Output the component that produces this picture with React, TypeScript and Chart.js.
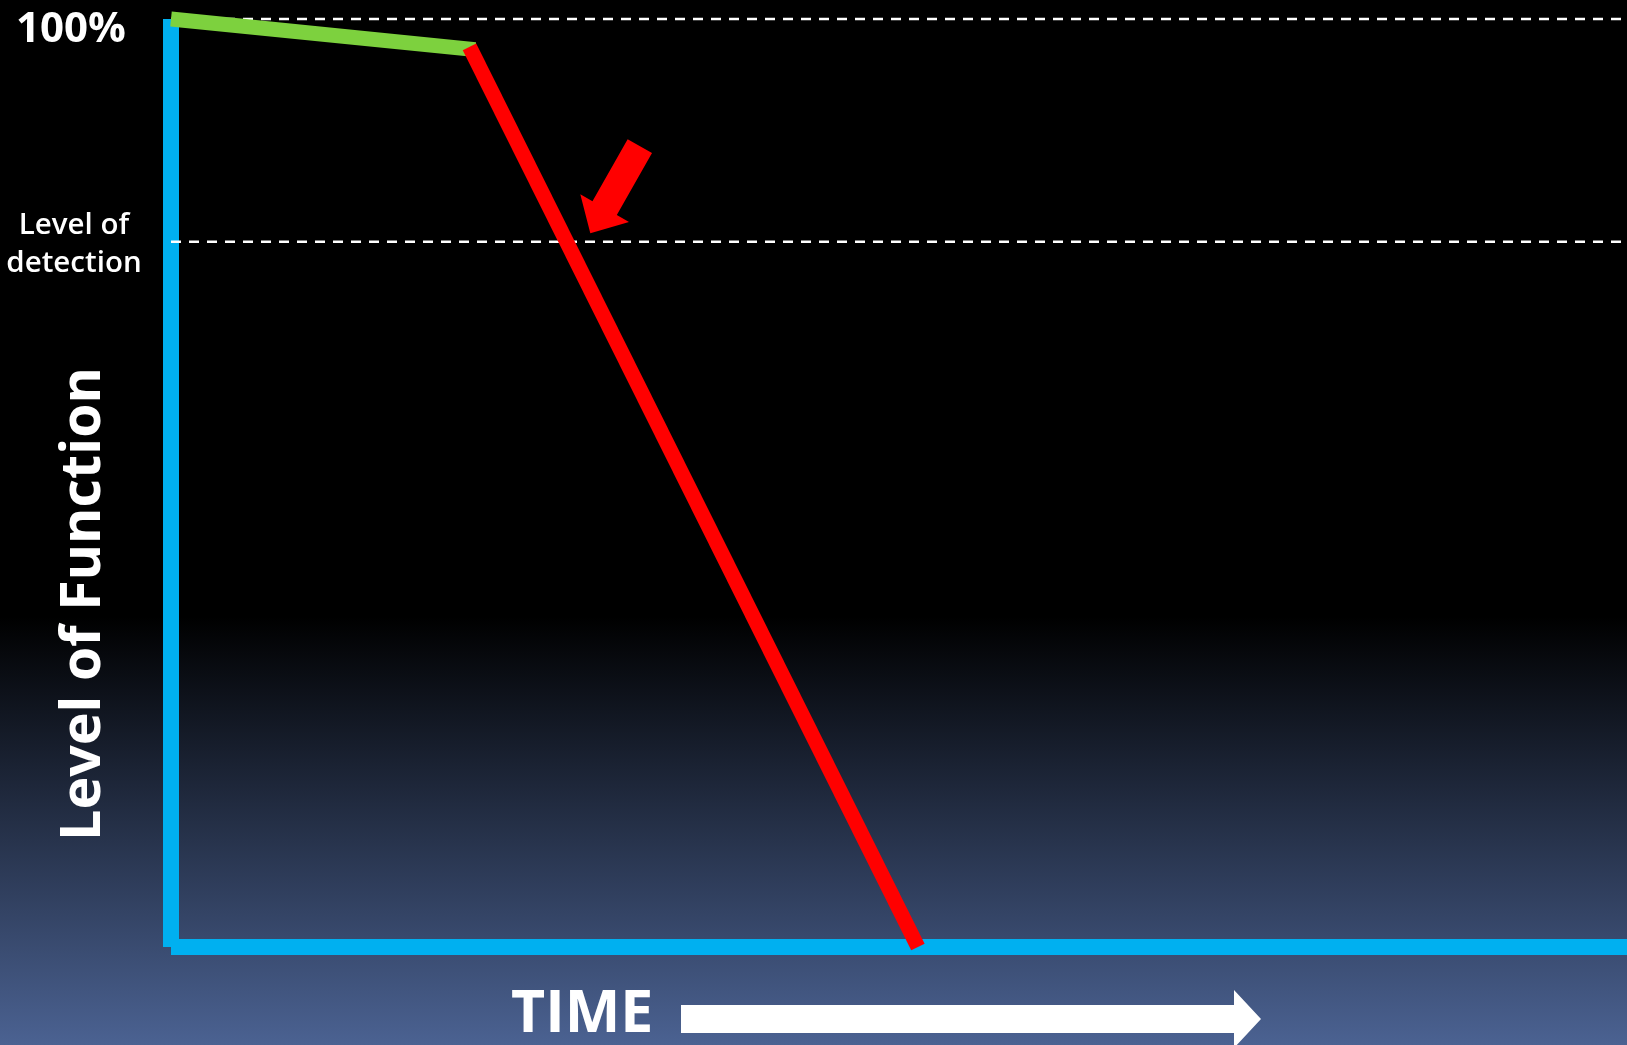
import React, { useEffect, useRef } from "react";
import { Chart, registerables } from "chart.js";

Chart.register(...registerables);

// Time runs 0..100 across the plot, function level 0..100 %.
const timeRange = [0, 100];
const levelRange = [0, 100];

// Axis frame (blue): vertical level axis and horizontal time axis.
const axisVerticalTime = [0, 0];
const axisVerticalLevel = [100, 0];
const axisHorizontalTime = [0, 100];
const axisHorizontalLevel = [0, 0];

// Slow, healthy phase (green).
const healthyTime = [0, 20.9];
const healthyLevel = [100, 96.7];

// Rapid decline (red).
const declineTime = [20.5, 51.3];
const declineLevel = [97.0, 0];

// Reference levels (dashed).
const referenceLevels = [100, 76];
const referenceLabels: (string | string[])[] = ["100%", ["Level of", "detection"]];

// Pointer arrow towards the moment the decline is detected: [tail, tip].
const pointerTime = [32.2, 28.8];
const pointerLevel = [86.3, 76.9];

const xAxisTitle = "TIME";
const yAxisTitle = "Level of Function";

const FONT = "'Open Sans', 'DejaVu Sans', sans-serif";

const toPoints = (xs: number[], ys: number[]) => xs.map((x, i) => ({ x, y: ys[i] }));

const backgroundPlugin = {
  id: "slideBackground",
  beforeDraw(chart: any) {
    const { ctx, width, height } = chart;
    const g = ctx.createLinearGradient(0, 0, 0, height);
    g.addColorStop(0, "#000000");
    g.addColorStop(0.59, "#000000");
    g.addColorStop(1, "#4b6292");
    ctx.save();
    ctx.fillStyle = g;
    ctx.fillRect(0, 0, width, height);
    ctx.restore();
  },
};

const annotationPlugin = {
  id: "slideAnnotations",
  afterDatasetsDraw(chart: any) {
    const { ctx } = chart;
    const xs = chart.scales.x;
    const ys = chart.scales.y;

    // red pointer arrow
    const tx = xs.getPixelForValue(pointerTime[0]);
    const ty = ys.getPixelForValue(pointerLevel[0]);
    const hx = xs.getPixelForValue(pointerTime[1]);
    const hy = ys.getPixelForValue(pointerLevel[1]);
    const len = Math.hypot(hx - tx, hy - ty);
    const ux = (hx - tx) / len;
    const uy = (hy - ty) / len;
    const px = -uy;
    const py = ux;
    const shaftW = 14;
    const headW = 28;
    const headL = 29;
    const bx = hx - ux * headL;
    const by = hy - uy * headL;
    ctx.save();
    ctx.fillStyle = "#ff0000";
    ctx.beginPath();
    ctx.moveTo(tx + px * shaftW, ty + py * shaftW);
    ctx.lineTo(bx + px * shaftW, by + py * shaftW);
    ctx.lineTo(bx + px * headW, by + py * headW);
    ctx.lineTo(hx, hy);
    ctx.lineTo(bx - px * headW, by - py * headW);
    ctx.lineTo(bx - px * shaftW, by - py * shaftW);
    ctx.lineTo(tx - px * shaftW, ty - py * shaftW);
    ctx.closePath();
    ctx.fill();
    ctx.restore();
  },
  afterDraw(chart: any) {
    const { ctx, chartArea } = chart;
    const ys = chart.scales.y;
    ctx.save();
    ctx.fillStyle = "#ffffff";

    // reference level labels
    const labelX = 74;
    referenceLabels.forEach((label, i) => {
      const yPix = ys.getPixelForValue(referenceLevels[i]);
      ctx.textAlign = "center";
      ctx.textBaseline = "alphabetic";
      if (Array.isArray(label)) {
        ctx.font = `600 29.5px ${FONT}`;
        ctx.fillText(label[0], labelX, yPix - 8);
        ctx.fillText(label[1], labelX, yPix + 30);
      } else {
        ctx.font = `700 42px ${FONT}`;
        ctx.fillText(label, labelX - 3, yPix + 23);
      }
    });

    // vertical axis title
    ctx.save();
    ctx.translate(100, 604);
    ctx.rotate(-Math.PI / 2);
    ctx.font = `700 55.5px ${FONT}`;
    ctx.textAlign = "center";
    ctx.textBaseline = "alphabetic";
    ctx.fillText(yAxisTitle, 0, 0);
    ctx.restore();

    // horizontal axis title with its arrow
    const baseY = chartArea.bottom + 85;
    ctx.font = `700 59px ${FONT}`;
    ctx.textAlign = "left";
    ctx.textBaseline = "alphabetic";
    ctx.fillText(xAxisTitle, 511, baseY);

    const shaftTop = 1005;
    const shaftBottom = 1033;
    const mid = (shaftTop + shaftBottom) / 2;
    ctx.beginPath();
    ctx.moveTo(681, shaftTop);
    ctx.lineTo(1234, shaftTop);
    ctx.lineTo(1234, mid - 29);
    ctx.lineTo(1261, mid);
    ctx.lineTo(1234, mid + 29);
    ctx.lineTo(1234, shaftBottom);
    ctx.lineTo(681, shaftBottom);
    ctx.closePath();
    ctx.fill();
    ctx.restore();
  },
};

export default function App() {
  const canvasRef = useRef<HTMLCanvasElement | null>(null);

  useEffect(() => {
    document.body.style.margin = "0";
    document.body.style.overflow = "hidden";
    const canvas = canvasRef.current;
    if (!canvas) return;

    const lineBase = {
      pointRadius: 0,
      pointHoverRadius: 0,
      tension: 0,
      fill: false,
      clip: false as const,
      borderCapStyle: "butt" as const,
    };

    const chart = new Chart(canvas, {
      type: "line",
      data: {
        datasets: [
          {
            ...lineBase,
            label: "Decline",
            data: toPoints(declineTime, declineLevel),
            borderColor: "#ff0000",
            borderWidth: 15,
            order: 0,
          },
          {
            ...lineBase,
            label: "Healthy",
            data: toPoints(healthyTime, healthyLevel),
            borderColor: "#7dd13e",
            borderWidth: 15,
            order: 1,
          },
          ...referenceLevels.map((lvl, i) => ({
            ...lineBase,
            label: `Reference ${i}`,
            data: toPoints(timeRange, [lvl, lvl]),
            borderColor: "#ffffff",
            borderWidth: 2.5,
            borderDash: [10, 8],
            order: 2,
          })),
          {
            ...lineBase,
            label: "Level axis",
            data: toPoints(axisVerticalTime, axisVerticalLevel),
            borderColor: "#00b0f0",
            borderWidth: 16,
            order: 3,
          },
          {
            ...lineBase,
            label: "Time axis",
            data: toPoints(axisHorizontalTime, axisHorizontalLevel),
            borderColor: "#00b0f0",
            borderWidth: 16,
            order: 3,
          },
        ],
      },
      options: {
        animation: false,
        responsive: false,
        events: [],
        layout: { padding: { left: 171, right: 0, top: 19, bottom: 98 } },
        scales: {
          x: { type: "linear", min: timeRange[0], max: timeRange[1], display: false },
          y: { type: "linear", min: levelRange[0], max: levelRange[1], display: false },
        },
        plugins: {
          legend: { display: false },
          tooltip: { enabled: false },
        },
      },
      plugins: [backgroundPlugin, annotationPlugin],
    });

    return () => chart.destroy();
  }, []);

  return (
    <canvas
      ref={canvasRef}
      width={1627}
      height={1045}
      style={{ display: "block", width: 1627, height: 1045 }}
    />
  );
}
